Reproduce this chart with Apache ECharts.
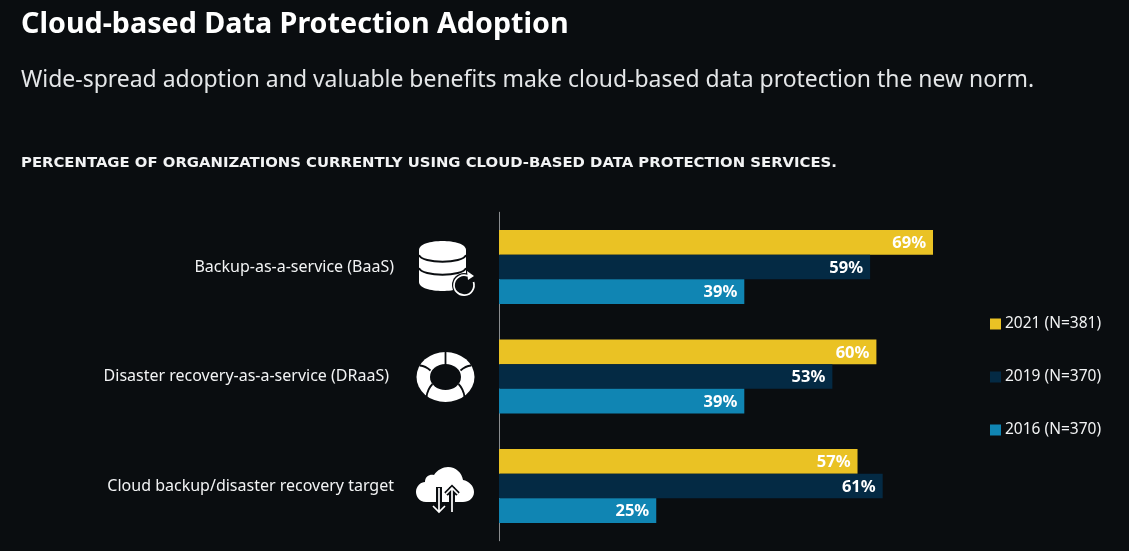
<!DOCTYPE html>
<html>
<head>
<meta charset="utf-8">
<title>Cloud-based Data Protection Adoption</title>
<script src="https://cdn.jsdelivr.net/npm/echarts@6/dist/echarts.min.js"></script>
<style>
    html, body { margin: 0; padding: 0; background: #0a0d10; }
    #chart { width: 1129px; height: 551px; }
</style>
</head>
<body>
<div id="chart"></div>
<script>
const BG = '#0a0d10';
const FONT = '"Noto Sans"';

const categories = [
    { value: 'Backup-as-a-service (BaaS)' },
    // this one sits a little further from the axis in the original
    { value: 'Disaster recovery-as-a-service (DRaaS)', textStyle: { padding: [0, 5, 0, 0] } },
    { value: 'Cloud backup/disaster recovery target' }
];

const seriesData = [
    { name: '2021 (N=381)', color: '#eac224', values: [69, 60, 57] },
    { name: '2019 (N=370)', color: '#042a44', values: [59, 53, 61] },
    { name: '2016 (N=370)', color: '#1085b3', values: [39, 39, 25] }
];

const svgUrl = (w, h, body) =>
    'data:image/svg+xml;charset=utf-8,' + encodeURIComponent(
        `<svg xmlns="http://www.w3.org/2000/svg" width="${w}" height="${h}" viewBox="0 0 ${w} ${h}">${body}</svg>`);

// icons next to the category labels
const databaseIcon = svgUrl(62, 60, `
    <path d="M1 12 C1 0 48 0 48 12 V44 C48 56 1 56 1 44 Z" fill="#fff"/>
    <path d="M1 17 C4 26 45 26 48 17 M1 30 C4 39 45 39 48 30" fill="none" stroke="${BG}" stroke-width="2"/>
    <circle cx="46" cy="47" r="12" fill="${BG}"/>
    <path d="M55.5 44 A10 10 0 1 1 50 38" fill="none" stroke="#fff" stroke-width="1.7"/>
    <path d="M49 33 L56 38 L50 42 Z" fill="#fff"/>`);

const lifebuoyIcon = svgUrl(60, 52, `
    <ellipse cx="30" cy="26" rx="29" ry="25" fill="#fff"/>
    <ellipse cx="30" cy="26" rx="15.5" ry="13" fill="${BG}"/>
    <path d="M30 0 V15 M15 19.5 Q10 15 4.5 14.5 M45 19.5 Q50 15 55.5 14.5 M17 33 Q12 38 11 46 M43 33 Q48 38 49 46"
        fill="none" stroke="${BG}" stroke-width="1.8"/>`);

const cloudIcon = svgUrl(60, 50, `
    <path d="M11 37 C4 37 1 31 1 27 C1 21 6 17 10 17 C10 11 15 9 19 10 C22 5 28 2 33 2 C41 2 47 8 48 15 C54 16 59 21 59 27 C59 33 54 37 48 37 Z" fill="#fff"/>
    <path d="M24 22 V50 M37 22 V50" stroke="${BG}" stroke-width="6"/>
    <path d="M18 41 L24 47 L30 41 M31 29 L37 23 L43 29" fill="none" stroke="${BG}" stroke-width="5"/>
    <path d="M24 23 V47 M18 41 L24 47 L30 41" fill="none" stroke="#fff" stroke-width="1.7"/>
    <path d="M37 23 V47 M31 29 L37 23 L43 29" fill="none" stroke="#fff" stroke-width="1.7"/>`);

const iconImage = (image, x, y, width, height) => ({
    type: 'image',
    silent: true,
    style: { image: image, x: x, y: y, width: width, height: height }
});

const option = {
    backgroundColor: BG,
    animation: false,
    title: [
        {
            text: 'Cloud-based Data Protection Adoption',
            left: 21, top: 6, padding: 0,
            textStyle: { color: '#ffffff', fontFamily: FONT, fontWeight: 'bold', fontSize: 28.7, lineHeight: 38 }
        },
        {
            text: 'Wide-spread adoption and valuable benefits make cloud-based data protection the new norm.',
            left: 21, top: 63, padding: 0,
            textStyle: { color: '#e4e6e8', fontFamily: FONT, fontWeight: 'normal', fontSize: 22.95, lineHeight: 34 }
        },
        {
            text: 'PERCENTAGE OF ORGANIZATIONS CURRENTLY USING CLOUD-BASED DATA PROTECTION SERVICES.',
            left: 21, top: 154, padding: 0,
            textStyle: { color: '#f2f3f4', fontFamily: '"DejaVu Sans"', fontWeight: 'bold', fontSize: 14.85, lineHeight: 18 }
        }
    ],
    legend: {
        orient: 'vertical',
        left: 985, top: 311,
        itemWidth: 11, itemHeight: 11, itemGap: 37,
        icon: 'rect',
        textStyle: { color: '#f2f3f4', fontFamily: FONT, fontSize: 15.5, padding: [0, 0, 0, -1] },
        data: seriesData.map(s => s.name)
    },
    grid: { left: 499, top: 212.25, width: 629, height: 328.5 },
    xAxis: { type: 'value', min: 0, max: 100, show: false },
    yAxis: {
        type: 'category',
        inverse: true,
        data: categories,
        axisTick: { show: false },
        axisLine: { show: true, lineStyle: { color: '#8a8d90', width: 1 } },
        axisLabel: { margin: 105, color: '#f2f3f4', fontFamily: FONT, fontSize: 16 }
    },
    series: seriesData.map(s => ({
        name: s.name,
        type: 'bar',
        barWidth: 24.6,
        barGap: 0,
        itemStyle: { color: s.color },
        label: {
            show: true,
            position: 'insideRight',
            distance: 7,
            offset: [0, 1],
            formatter: '{c}%',
            color: '#ffffff',
            fontFamily: FONT,
            fontWeight: 'bold',
            fontSize: 16.5
        },
        data: s.values
    })),
    graphic: [
        iconImage(databaseIcon, 418, 238, 62, 60),
        iconImage(lifebuoyIcon, 415.5, 351, 60, 52),
        iconImage(cloudIcon, 415, 465, 60, 50)
    ]
};

var chart = echarts.init(document.getElementById('chart'));
chart.setOption(option);
</script>
</body>
</html>
